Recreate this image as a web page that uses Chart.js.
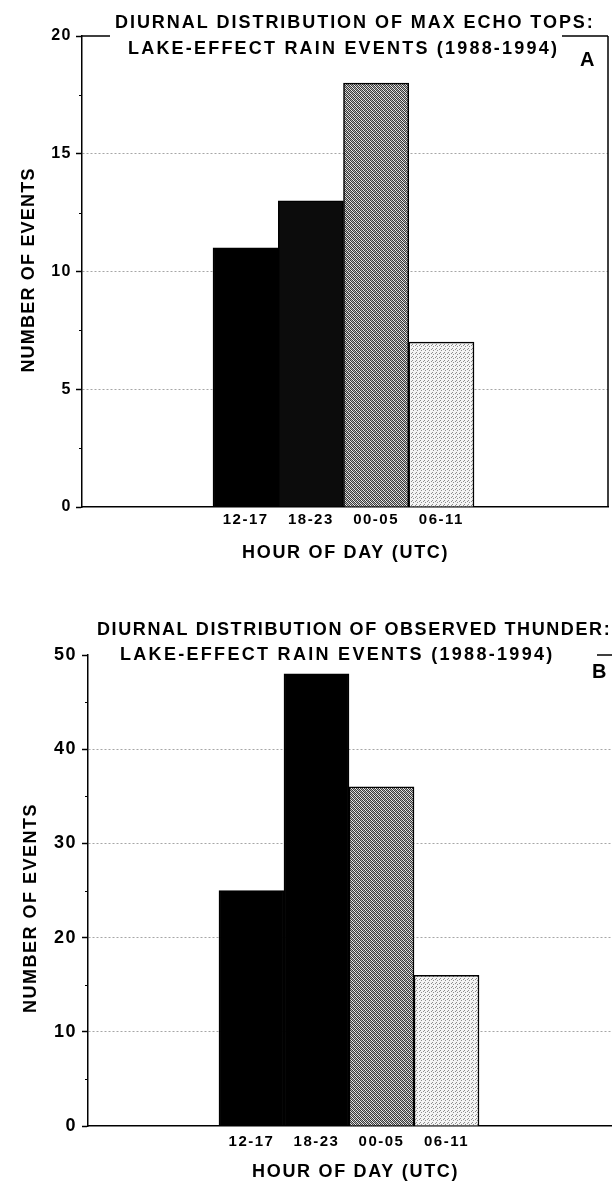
<!DOCTYPE html>
<html><head><meta charset="utf-8">
<script src="https://cdn.jsdelivr.net/npm/chart.js@4/dist/chart.umd.min.js"></script>
<style>
html,body{margin:0;padding:0;background:#fff;overflow:hidden;width:612px;height:1181px;position:relative;}
.panel{position:absolute;left:0;}
#wa{top:0;width:612px;height:590px;}
#wb{top:590px;width:630px;height:591px;}
</style></head><body>
<div class="panel" id="wa"><canvas id="ca"></canvas></div>
<div class="panel" id="wb"><canvas id="cb"></canvas></div>
<script>
// ---- data ----
const categories = ['12-17', '18-23', '00-05', '06-11'];
const echoTopEvents = [11, 13, 18, 7];
const thunderEvents = [25, 48, 36, 16];
const yTicksA = [0, 5, 10, 15, 20];
const yTicksB = [0, 10, 20, 30, 40, 50];
const titleA = ['DIURNAL DISTRIBUTION OF MAX ECHO TOPS:', 'LAKE-EFFECT RAIN EVENTS (1988-1994)'];
const titleB = ['DIURNAL DISTRIBUTION OF OBSERVED THUNDER:', 'LAKE-EFFECT RAIN EVENTS (1988-1994)'];
const xAxisTitle = 'HOUR OF DAY (UTC)';
const yAxisTitle = 'NUMBER OF EVENTS';

const FONT = '"Liberation Sans", Arial, Helvetica, sans-serif';

function makePattern(size, cells) {
  const c = document.createElement('canvas');
  c.width = size; c.height = size;
  const g = c.getContext('2d');
  for (let y = 0; y < size; y++) for (let x = 0; x < size; x++) {
    g.fillStyle = cells(x, y); g.fillRect(x, y, 1, 1);
  }
  return g.createPattern(c, 'repeat');
}
const midGrey = makePattern(4, (x, y) => ((x + y) % 2 === 0 ? '#3c3c3c' : ((x * 3 + y) % 4 === 1 ? '#b0b0b0' : '#ececec')));
const lightGrey = makePattern(4, (x, y) => ((x + 2 * y) % 5 === 0 ? '#8e8e8e' : '#f4f4f4'));

const textPlugin = {
  id: 'texts',
  beforeDraw(chart) { chart.ctx.letterSpacing = '1.5px'; },
  afterDraw(chart, args, o) {
    const ctx = chart.ctx;
    ctx.save();
    ctx.fillStyle = '#000';
    ctx.textBaseline = 'alphabetic';
    for (const t of o.items) {
      ctx.letterSpacing = (t.ls === undefined ? 1.5 : t.ls) + 'px';
      ctx.font = 'bold ' + t.size + 'px ' + FONT;
      ctx.save();
      ctx.translate(t.x, t.y);
      if (t.rot) ctx.rotate(t.rot);
      ctx.textAlign = t.align || 'left';
      ctx.fillText(t.text, 0, 0);
      ctx.restore();
    }
    ctx.restore();
  }
};

const framePlugin = {
  id: 'frame',
  afterDatasetsDraw(chart, args, o) {
    const { ctx, chartArea: { left, top, right, bottom } } = chart;
    ctx.save();
    ctx.strokeStyle = '#000';
    ctx.lineWidth = 1.5;
    ctx.beginPath();
    for (const [a, b] of o.topSegments) { ctx.moveTo(a, top); ctx.lineTo(b, top); }
    ctx.moveTo(right, top); ctx.lineTo(right, bottom);
    ctx.stroke();
    const ys = chart.scales.y;
    ctx.lineWidth = 1;
    ctx.beginPath();
    for (let v = o.minorStep; v < ys.max; v += o.majorStep) {
      const p = Math.round(ys.getPixelForValue(v)) + 0.5;
      ctx.moveTo(left - 3, p); ctx.lineTo(left, p);
    }
    ctx.stroke();
    ctx.restore();
  }
};

function makeChart(id, cfg) {
  const yMax = cfg.yTicks[cfg.yTicks.length - 1];
  return new Chart(document.getElementById(id), {
    type: 'bar',
    data: {
      datasets: [{
        data: categories.map((c, i) => ({ x: i, y: cfg.values[i] })),
        backgroundColor: cfg.fills,
        borderColor: '#000',
        borderWidth: 1.5,
        barPercentage: 1,
        categoryPercentage: 1
      }]
    },
    options: {
      responsive: true,
      maintainAspectRatio: false,
      animation: false,
      devicePixelRatio: 1,
      layout: { padding: cfg.padding },
      plugins: {
        legend: { display: false },
        title: { display: false },
        tooltip: { enabled: false },
        texts: { items: cfg.texts },
        frame: { topSegments: cfg.topSegments, minorStep: cfg.minorStep, majorStep: cfg.majorStep }
      },
      scales: {
        x: {
          type: 'linear',
          min: cfg.xMin, max: cfg.xMax,
          offset: false,
          grid: { display: false, drawTicks: false, offset: false },
          border: { display: true, color: '#000', width: 1.5 },
          afterBuildTicks: s => { s.ticks = categories.map((c, i) => ({ value: i })); },
          afterFit: s => { s.height = 30; },
          ticks: {
            autoSkip: false, maxRotation: 0, minRotation: 0,
            padding: cfg.xTickPad, color: '#000',
            font: { family: FONT, size: 15, weight: 'bold' },
            callback: v => categories[Math.round(v)] || ''
          }
        },
        y: {
          min: 0, max: yMax,
          afterBuildTicks: s => { s.ticks = cfg.yTicks.map(v => ({ value: v })); },
          afterFit: s => { s.width = cfg.yWidth; },
          grid: {
            color: c => (c.tick && c.tick.value > 0 && c.tick.value < yMax ? '#a6a6a6' : 'rgba(0,0,0,0)'),
            lineWidth: 1,
            tickColor: '#000', tickLength: 6, tickWidth: 1.5
          },
          border: { display: true, color: '#000', width: 1.5, dash: [2, 2] },
          ticks: {
            padding: cfg.yTickPad, color: '#000',
            font: { family: FONT, size: cfg.yTickSize, weight: 'bold' },
            callback: v => String(v)
          }
        }
      }
    },
    plugins: [textPlugin, framePlugin]
  });
}

makeChart('ca', {
  values: echoTopEvents,
  yTicks: yTicksA, majorStep: 5, minorStep: 2.5,
  fills: ['#000000', '#0c0c0c', midGrey, lightGrey],
  padding: { left: 0, top: 36, right: 4, bottom: 53 },
  xMin: -2.508, xMax: 5.554,
  yWidth: 82, yTickPad: 4, yTickSize: 16, xTickPad: 4,
  topSegments: [[82, 110], [562, 608]],
  texts: [
    { text: titleA[0], x: 115, y: 28, size: 18, ls: 1.95 },
    { text: titleA[1], x: 128, y: 54, size: 18, ls: 2.2 },
    { text: 'A', x: 580, y: 66, size: 20, ls: 0 },
    { text: xAxisTitle, x: 242, y: 558, size: 18, ls: 1.7 },
    { text: yAxisTitle, x: 34, y: 270, size: 18, rot: -Math.PI / 2, align: 'center', ls: 1.2 }
  ]
});

makeChart('cb', {
  values: thunderEvents,
  yTicks: yTicksB, majorStep: 10, minorStep: 5,
  fills: ['#000000', '#000000', midGrey, lightGrey],
  padding: { left: 0, top: 65, right: 5, bottom: 25 },
  xMin: -2.515, xMax: 5.746,
  yWidth: 88, yTickPad: 5, yTickSize: 18, xTickPad: 7,
  topSegments: [[597, 625]],
  texts: [
    { text: titleB[0], x: 97, y: 45, size: 18, ls: 1.6 },
    { text: titleB[1], x: 120, y: 70, size: 18, ls: 2.3 },
    { text: 'B', x: 592, y: 88, size: 20, ls: 0 },
    { text: xAxisTitle, x: 252, y: 587, size: 18, ls: 1.7 },
    { text: yAxisTitle, x: 36, y: 318, size: 18, rot: -Math.PI / 2, align: 'center', ls: 1.5 }
  ]
});
</script>
</body></html>
